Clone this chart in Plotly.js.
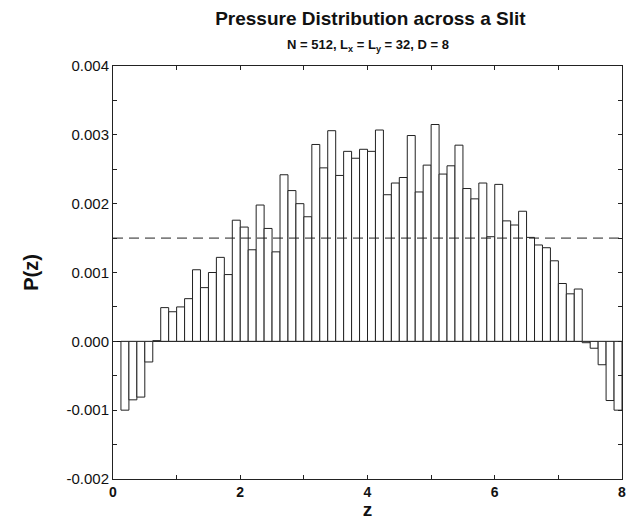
<!DOCTYPE html>
<html>
<head>
<meta charset="utf-8">
<script src="https://cdn.plot.ly/plotly-3.0.1.min.js"></script>
<style>
  html, body { margin: 0; padding: 0; background: #fff; }
  #chart { width: 632px; height: 520px; }
</style>
</head>
<body>
<div id="chart"></div>
<script>
// Left edges of the histogram bins along z
const binStart = [
  0.125, 0.250, 0.375, 0.500, 0.625, 0.750, 0.875, 1.000,
  1.125, 1.250, 1.375, 1.500, 1.625, 1.750, 1.875, 2.000,
  2.125, 2.250, 2.375, 2.500, 2.625, 2.750, 2.875, 3.000,
  3.125, 3.250, 3.375, 3.500, 3.625, 3.750, 3.875, 4.000,
  4.125, 4.250, 4.375, 4.500, 4.625, 4.750, 4.875, 5.000,
  5.125, 5.250, 5.375, 5.500, 5.625, 5.750, 5.875, 6.000,
  6.125, 6.250, 6.375, 6.500, 6.625, 6.750, 6.875, 7.000,
  7.125, 7.250, 7.375, 7.500, 7.625, 7.750, 7.875
];
// Pressure P(z) per bin
const pressure = [
  -0.00100, -0.00085, -0.00081, -0.00030, 0.00001, 0.00049, 0.00043, 0.00050,
   0.00062,  0.00104,  0.00078,  0.00100, 0.00122, 0.00097, 0.00176, 0.00166,
   0.00133,  0.00198,  0.00164,  0.00130, 0.00242, 0.00219, 0.00200, 0.00181,
   0.00286,  0.00252,  0.00306,  0.00241, 0.00276, 0.00266, 0.00279, 0.00276,
   0.00307,  0.00213,  0.00230,  0.00238, 0.00299, 0.00217, 0.00256, 0.00315,
   0.00243,  0.00255,  0.00285,  0.00222, 0.00207, 0.00230, 0.00152, 0.00228,
   0.00175,  0.00169,  0.00189,  0.00151, 0.00140, 0.00136, 0.00117, 0.00084,
   0.00069,  0.00076, -0.00002, -0.00010, -0.00034, -0.00086, -0.00100
];
const binWidth = 0.125;
// Mean pressure reference (dashed line)
const meanZ = [0, 8];
const meanP = [0.0015, 0.0015];

const xTickVals = [0, 2, 4, 6, 8];
const xTickText = ['0', '2', '4', '6', '8'];
const yTickVals = [-0.002, -0.001, 0.000, 0.001, 0.002, 0.003, 0.004];
const yTickText = ['-0.002', '-0.001', '0.000', '0.001', '0.002', '0.003', '0.004'];

const font = 'Liberation Sans, Arial, Helvetica, sans-serif';

const traces = [
  {
    type: 'bar',
    x: binStart,
    y: pressure,
    width: binWidth,
    offset: 0,
    marker: { color: '#ffffff', line: { color: '#222222', width: 1 } },
    hoverinfo: 'x+y'
  },
  {
    type: 'scatter',
    mode: 'lines',
    x: meanZ,
    y: meanP,
    line: { color: '#222222', width: 1, dash: '10px,6px' },
    hoverinfo: 'skip'
  }
];

const layout = {
  width: 632,
  height: 520,
  paper_bgcolor: '#ffffff',
  plot_bgcolor: '#ffffff',
  showlegend: false,
  margin: { l: 113, r: 10, t: 66, b: 41 },
  font: { family: font, color: '#111111' },
  title: {
    text: 'Pressure Distribution across a Slit',
    font: { family: font, size: 19, weight: 'bold', color: '#111111' },
    x: 0.586, xanchor: 'center',
    y: 0.965, yanchor: 'middle'
  },
  annotations: [{
    text: 'N = 512, L<sub>x</sub> = L<sub>y</sub> = 32, D = 8',
    xref: 'paper', yref: 'paper',
    x: 0.5, y: 1.0, yshift: 21,
    xanchor: 'center', yanchor: 'middle',
    showarrow: false,
    font: { family: font, size: 13, weight: 'bold', color: '#111111' }
  }],
  xaxis: {
    range: [0, 8],
    tickvals: xTickVals,
    ticktext: xTickText,
    ticks: 'inside',
    ticklen: 4,
    tickcolor: '#222',
    minor: { dtick: 1, ticks: 'inside', ticklen: 4, tickcolor: '#222' },
    showline: true,
    linecolor: '#222',
    linewidth: 1,
    mirror: 'ticks',
    showgrid: false,
    zeroline: false,
    tickfont: { family: font, size: 14, weight: 'bold', color: '#111' },
    title: { text: 'z', font: { family: font, size: 19, weight: 'bold', color: '#111' }, standoff: 0 }
  },
  yaxis: {
    range: [-0.002, 0.004],
    tickvals: yTickVals,
    ticktext: yTickText,
    ticks: 'inside',
    ticklen: 4,
    tickcolor: '#222',
    minor: { dtick: 0.0005, ticks: 'inside', ticklen: 4, tickcolor: '#222' },
    showline: true,
    linecolor: '#222',
    linewidth: 1,
    mirror: 'ticks',
    showgrid: false,
    zeroline: true,
    zerolinecolor: '#111',
    zerolinewidth: 1.5,
    tickfont: { family: font, size: 15, color: '#111' },
    title: { text: 'P(z)', font: { family: font, size: 20, weight: 'bold', color: '#111' }, standoff: 22 }
  }
};

Plotly.newPlot('chart', traces, layout, { displayModeBar: false, staticPlot: true });
</script>
</body>
</html>
